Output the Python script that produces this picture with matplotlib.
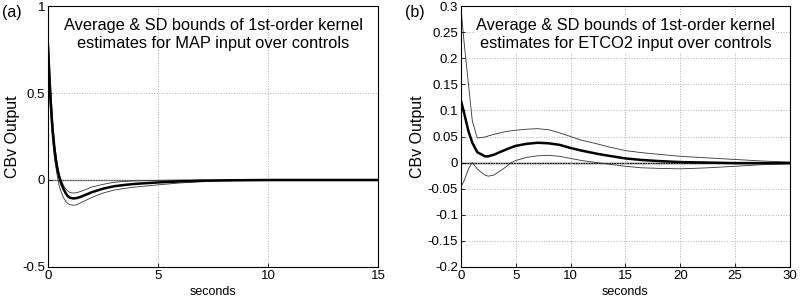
import matplotlib
matplotlib.use("Agg")
import matplotlib.pyplot as plt

plt.rcParams["font.family"] = ["Liberation Sans", "DejaVu Sans"]

# panel (a): MAP kernel
t_map = [0, 0.1, 0.2, 0.3, 0.4, 0.5, 0.6, 0.7, 0.8, 0.9, 1.0, 1.15, 1.3, 1.5, 1.75, 2.0, 2.5, 3.0,
         3.5, 4.0, 5.0, 6.0, 7.0, 8.0, 9.0, 10.0, 12.0, 15.0]
map_mean = [0.76, 0.50, 0.30, 0.17, 0.08, 0.02, -0.02, -0.05, -0.075, -0.093, -0.102, -0.106, -0.104,
            -0.096, -0.083, -0.070, -0.050, -0.036, -0.028, -0.022, -0.014, -0.008, -0.004, -0.002,
            -0.001, 0.0, 0.0, 0.0]
map_upper = [0.88, 0.58, 0.36, 0.21, 0.11, 0.04, 0.0, -0.03, -0.05, -0.064, -0.072, -0.075, -0.073,
             -0.065, -0.053, -0.040, -0.025, -0.013, -0.008, -0.005, -0.002, 0.0, 0.0, 0.0, 0.0, 0.0,
             0.0, 0.0]
map_lower = [0.64, 0.42, 0.24, 0.12, 0.04, -0.03, -0.07, -0.10, -0.122, -0.135, -0.142, -0.145, -0.143,
             -0.130, -0.115, -0.100, -0.075, -0.058, -0.048, -0.040, -0.028, -0.017, -0.010, -0.005,
             -0.002, 0.0, 0.0, 0.0]

# panel (b): ETCO2 kernel
t_co2 = [0, 0.3, 0.7, 1.05, 1.5, 2.2, 2.5, 3.0, 4.0, 4.6, 5.0, 6.0, 7.0, 8.0, 9.0, 10.0, 11.0, 12.4,
         13.5, 15.0, 16.5, 18.0, 20.0, 22.5, 25.0, 27.5, 30.0]
co2_mean = [0.12, 0.095, 0.06, 0.038, 0.020, 0.012, 0.012, 0.015, 0.024, 0.029, 0.032, 0.036, 0.038,
            0.037, 0.034, 0.028, 0.023, 0.017, 0.013, 0.008, 0.005, 0.003, 0.001, 0.0, -0.001, -0.001,
            -0.001]
co2_upper = [0.30, 0.23, 0.15, 0.08, 0.047, 0.049, 0.051, 0.054, 0.059, 0.061, 0.062, 0.064, 0.065,
             0.063, 0.057, 0.050, 0.043, 0.036, 0.030, 0.023, 0.019, 0.016, 0.012, 0.009, 0.006, 0.003,
             0.001]
co2_lower = [-0.047, -0.035, -0.012, 0.0, -0.012, -0.024, -0.026, -0.024, -0.010, 0.0, 0.004, 0.010,
             0.013, 0.014, 0.012, 0.008, 0.004, 0.0, -0.003, -0.007, -0.010, -0.011, -0.012, -0.010,
             -0.007, -0.004, -0.002]

fig = plt.figure(figsize=(8.0, 3.01), dpi=100)
ax1 = fig.add_axes([0.060, 0.113, 0.4125, 0.867])
ax2 = fig.add_axes([0.576, 0.113, 0.4115, 0.867])


def style(ax, xlim, ylim, xticks, yticks, ylabels):
    ax.set_xlim(*xlim)
    ax.set_ylim(*ylim)
    ax.set_xticks(xticks)
    ax.set_yticks(yticks)
    ax.set_yticklabels(ylabels)
    ax.tick_params(direction="in", length=3, labelsize=9.5, pad=2, width=0.6)
    ax.grid(True, color="#b0b0b0", linestyle=":", linewidth=0.7)
    for s in ax.spines.values():
        s.set_linewidth(0.8)
    ax.set_xlabel("seconds", fontsize=9, labelpad=3)
    ax.set_ylabel("CBv Output", fontsize=11.5, labelpad=2)


style(ax1, (0, 15), (-0.5, 1), [0, 5, 10, 15], [-0.5, 0, 0.5, 1], ["-0.5", "0", "0.5", "1"])
ax1.axhline(0, color="#555555", linewidth=0.9, zorder=1)
ax1.plot(t_map, map_upper, color="#333333", linewidth=0.6)
ax1.plot(t_map, map_lower, color="#333333", linewidth=0.6)
ax1.plot(t_map, map_mean, color="black", linewidth=1.8)
ax1.text(0.5, 0.955, "Average & SD bounds of 1st-order kernel\nestimates for MAP input over controls",
         transform=ax1.transAxes, ha="center", va="top", fontsize=11.8, linespacing=1.3)

co2_ticks = [-0.2, -0.15, -0.1, -0.05, 0, 0.05, 0.1, 0.15, 0.2, 0.25, 0.3]
style(ax2, (0, 30), (-0.2, 0.3), [0, 5, 10, 15, 20, 25, 30], co2_ticks,
      ["-0.2", "-0.15", "-0.1", "-0.05", "0", "0.05", "0.1", "0.15", "0.2", "0.25", "0.3"])
ax2.axhline(0, color="black", linewidth=1.0, zorder=1)
ax2.plot(t_co2, co2_upper, color="#333333", linewidth=0.6)
ax2.plot(t_co2, co2_lower, color="#333333", linewidth=0.6)
ax2.plot(t_co2, co2_mean, color="black", linewidth=1.8)
ax2.text(0.5, 0.955, "Average & SD bounds of 1st-order kernel\nestimates for ETCO2 input over controls",
         transform=ax2.transAxes, ha="center", va="top", fontsize=11.8, linespacing=1.3,
         bbox=dict(facecolor="white", edgecolor="none", pad=1))

fig.text(0.003, 0.945, "(a)", fontsize=11.5)
fig.text(0.506, 0.945, "(b)", fontsize=11.5)

fig.savefig("out.png", dpi=100)
